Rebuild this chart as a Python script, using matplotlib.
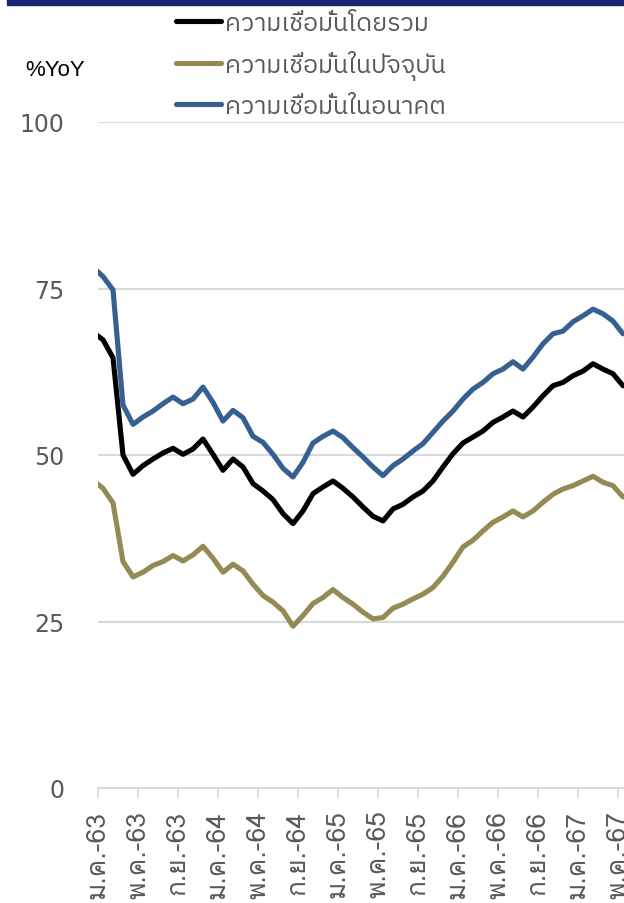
import matplotlib
matplotlib.use("Agg")
import matplotlib.pyplot as plt  # noqa: E402
import numpy as np  # noqa: E402
from matplotlib.patches import Rectangle  # noqa: E402

# monthly index values, Dec-62 .. May-67 (plotted mid-month)
overall = [68.4, 67.3, 64.6, 50.0, 47.1, 48.4, 49.4, 50.3, 51.0, 50.1,
           50.9, 52.4, 50.1, 47.7, 49.4, 48.2, 45.7, 44.6, 43.3, 41.2,
           39.7, 41.6, 44.2, 45.2, 46.1, 45.0, 43.7, 42.2, 40.8, 40.1,
           41.9, 42.6, 43.7, 44.6, 46.1, 48.2, 50.2, 51.8, 52.7, 53.6,
           54.9, 55.7, 56.6, 55.7, 57.2, 58.9, 60.4, 60.9, 61.9, 62.6,
           63.7, 62.9, 62.2, 60.4]
current = [46.2, 45.0, 42.8, 34.0, 31.7, 32.4, 33.4, 34.0, 34.9, 34.1,
           35.0, 36.3, 34.5, 32.4, 33.6, 32.6, 30.6, 28.9, 27.9, 26.6,
           24.3, 25.9, 27.7, 28.6, 29.8, 28.6, 27.6, 26.4, 25.4, 25.6,
           27.0, 27.6, 28.4, 29.1, 30.1, 31.8, 33.9, 36.2, 37.2, 38.6,
           39.9, 40.7, 41.6, 40.7, 41.6, 42.9, 44.1, 44.9, 45.4, 46.1,
           46.8, 45.9, 45.4, 43.7]
future = [78.2, 76.8, 74.8, 57.5, 54.6, 55.7, 56.6, 57.7, 58.7, 57.7,
          58.4, 60.2, 57.9, 55.1, 56.7, 55.6, 52.8, 51.9, 50.1, 48.0,
          46.7, 48.9, 51.8, 52.8, 53.6, 52.6, 51.1, 49.7, 48.2, 46.9,
          48.4, 49.4, 50.6, 51.7, 53.4, 55.1, 56.6, 58.4, 59.9, 60.9,
          62.2, 62.9, 64.0, 62.9, 64.7, 66.7, 68.2, 68.6, 70.0, 70.9,
          71.9, 71.2, 70.1, 68.2]

labels = ["ความเชื่อมั่นโดยรวม", "ความเชื่อมั่นในปัจจุบัน", "ความเชื่อมั่นในอนาคต"]
colors = ["#000000", "#948a54", "#376092"]

tick_labels = ["ม.ค.-63", "พ.ค.-63", "ก.ย.-63", "ม.ค.-64", "พ.ค.-64",
               "ก.ย.-64", "ม.ค.-65", "พ.ค.-65", "ก.ย.-65", "ม.ค.-66",
               "พ.ค.-66", "ก.ย.-66", "ม.ค.-67", "พ.ค.-67"]

GRID = "#d9d9d9"
TXT = "#595959"
THAI_TICK = ["Loma", "DejaVu Sans"]
THAI_LEG = ["IBM Plex Sans Thai", "DejaVu Sans"]

fig = plt.figure(figsize=(6.24, 9.04), dpi=100)
ax = fig.add_axes([98 / 624, 1 - 789 / 904, 1 - 98 / 624, (789 - 123) / 904])

x = np.arange(len(overall)) - 0.5  # first value is Dec-62
lines = []
for ys, c, lab in zip([overall, current, future], colors, labels):
    ln, = ax.plot(x, ys, color=c, lw=3.7, label=lab,
                  solid_joinstyle="round", solid_capstyle="round")
    lines.append(ln)

ax.set_xlim(0, 52.6)
ax.set_ylim(0, 100)
ax.set_yticks([0, 25, 50, 75, 100])
ax.set_xticks(np.arange(len(tick_labels)) * 4)
ax.set_xticklabels(tick_labels, rotation=90, family=THAI_TICK,
                   fontsize=19, color=TXT)
ax.tick_params(axis="y", length=0, pad=24, labelsize=17, labelcolor=TXT)
ax.tick_params(axis="x", length=7.5, width=1.2, color=GRID, pad=8)
ax.grid(axis="y", color=GRID, lw=1.5)
ax.set_axisbelow(True)
for s in ("top", "right", "left"):
    ax.spines[s].set_visible(False)
ax.spines["bottom"].set_color(GRID)
ax.spines["bottom"].set_linewidth(1.5)

fig.text(25 / 624, 1 - 70 / 904, "%YoY", fontsize=16, color="#000000",
         family=["Liberation Sans Narrow", "Liberation Sans"], va="center")

leg = fig.legend(handles=lines, loc="upper left",
                 bbox_to_anchor=(166 / 624, 1 - 3 / 904), frameon=False,
                 prop={"family": THAI_LEG, "size": 18}, labelcolor=TXT,
                 handlelength=1.8, handletextpad=0.15, labelspacing=0.6,
                 borderaxespad=0)

fig.patches.append(Rectangle((7 / 624, 1 - 6 / 904), 1, 6 / 904,
                             transform=fig.transFigure, color="#1c2573",
                             zorder=10))

fig.savefig("out.png", dpi=100)
